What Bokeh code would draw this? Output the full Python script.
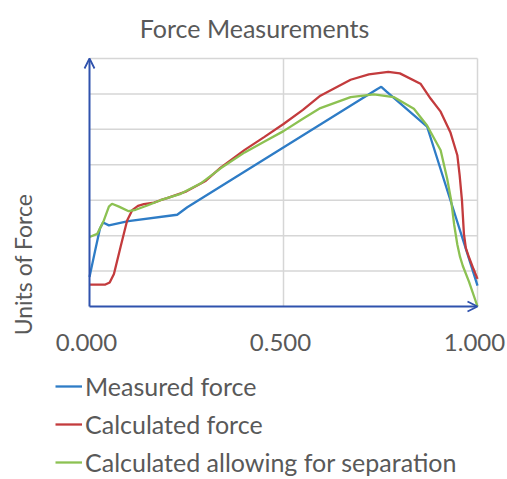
import math
from bokeh.plotting import figure
from bokeh.models import Range1d, Arrow, OpenHead, Legend, LegendItem
from bokeh.core.properties import value
from bokeh.embed import file_html
from bokeh.resources import INLINE

# ---------------- data ----------------
title_text = "Force Measurements"
y_label_text = "Units of Force"
x_ticks = [0.0, 0.5, 1.0]
x_tick_labels = ["0.000", "0.500", "1.000"]
x_grid_ticks = [0.5, 1.0]
y_grid_ticks = [1, 2, 3, 4, 5, 6, 7]
series_names = ["Measured force", "Calculated force", "Calculated allowing for separation"]

measured_x = [0.0, 0.015, 0.027, 0.035, 0.05, 0.10, 0.226, 0.252, 0.742, 0.752, 0.765, 0.870, 1.0]
measured_y = [0.83, 1.6, 2.2, 2.37, 2.29, 2.41, 2.59, 2.80, 6.14, 6.20, 6.07, 5.08, 0.59]

calc_x = [0.0, 0.041, 0.052, 0.063, 0.08, 0.097, 0.11, 0.125, 0.14, 0.166, 0.183, 0.20,
          0.25, 0.30, 0.338, 0.40, 0.45, 0.50, 0.55, 0.595, 0.673, 0.72, 0.77, 0.80,
          0.853, 0.879, 0.905, 0.930, 0.948, 0.954, 0.960, 0.965, 0.970, 0.978, 0.99, 1.0]
calc_y = [0.62, 0.62, 0.68, 0.92, 1.68, 2.43, 2.72, 2.84, 2.89, 2.93, 3.0, 3.06,
          3.25, 3.55, 3.92, 4.42, 4.78, 5.15, 5.55, 5.95, 6.40, 6.55, 6.62, 6.58,
          6.29, 5.87, 5.50, 4.92, 4.27, 3.70, 2.99, 2.05, 1.65, 1.39, 1.05, 0.78]

sep_x = [0.0, 0.02, 0.037, 0.05, 0.058, 0.076, 0.101, 0.119, 0.149, 0.183, 0.235,
         0.286, 0.338, 0.40, 0.45, 0.50, 0.55, 0.595, 0.673, 0.733, 0.784, 0.836,
         0.870, 0.905, 0.922, 0.932, 0.940, 0.948, 0.955, 0.962, 0.978, 1.0]
sep_y = [1.96, 2.05, 2.43, 2.82, 2.90, 2.82, 2.69, 2.73, 2.85, 3.0, 3.18,
         3.47, 3.9, 4.35, 4.65, 4.95, 5.3, 5.6, 5.91, 5.99, 5.91, 5.58,
         5.11, 4.41, 3.6, 3.0, 2.3, 1.75, 1.4, 1.15, 0.7, 0.0]

# ---------------- layout (pixels) ----------------
W, H = 506, 478
PLOT_L, PLOT_R, PLOT_T, PLOT_B = 89, 477, 58, 306
X_MIN, X_MAX, Y_MIN, Y_MAX = 0.0, 1.0, 0.0, 7.0
sx = (PLOT_R - PLOT_L) / (X_MAX - X_MIN)
sy = (PLOT_B - PLOT_T) / (Y_MAX - Y_MIN)
x_range = Range1d(X_MIN - PLOT_L / sx, X_MIN + (W - PLOT_L) / sx)
y_range = Range1d(Y_MIN - (H - PLOT_B) / sy, Y_MIN + PLOT_B / sy)


def px_to_x(px):
    return X_MIN + (px - PLOT_L) / sx


def py_to_y(py):
    return Y_MIN + (PLOT_B - py) / sy


# ---------------- style ----------------
FONT = "Lato"
TEXT_COL = "#595959"
AXIS_COL = "#2f52ad"
GRID_COL = "#d6d6d6"
colors = ["#2e7cc6", "#c33b3d", "#8cc152"]

p = figure(width=W, height=H, x_range=x_range, y_range=y_range,
           output_backend="svg", toolbar_location=None,
           x_axis_type=None, y_axis_type=None,
           min_border=0, min_border_left=0, min_border_right=0,
           min_border_top=0, min_border_bottom=0)
p.outline_line_color = None
p.grid.visible = False
p.background_fill_color = "white"
p.border_fill_color = "white"

# grid lines limited to the plot area
p.segment(x0=[X_MIN] * len(y_grid_ticks), y0=y_grid_ticks,
          x1=[X_MAX] * len(y_grid_ticks), y1=y_grid_ticks,
          line_color=GRID_COL, line_width=1.5)
p.segment(x0=x_grid_ticks, y0=[Y_MIN] * len(x_grid_ticks),
          x1=x_grid_ticks, y1=[Y_MAX] * len(x_grid_ticks),
          line_color=GRID_COL, line_width=1.5)

# series
r_meas = p.line(measured_x, measured_y, line_color=colors[0], line_width=2.3)
r_calc = p.line(calc_x, calc_y, line_color=colors[1], line_width=2.3)
r_sep = p.line(sep_x, sep_y, line_color=colors[2], line_width=2.3)

# axis arrows
p.add_layout(Arrow(end=OpenHead(size=10, line_color=AXIS_COL, line_width=1.8),
                   x_start=X_MIN, y_start=Y_MIN, x_end=X_MIN, y_end=Y_MAX,
                   line_color=AXIS_COL, line_width=2))
p.add_layout(Arrow(end=OpenHead(size=10, line_color=AXIS_COL, line_width=1.8),
                   x_start=X_MIN, y_start=Y_MIN, x_end=X_MAX, y_end=Y_MIN,
                   line_color=AXIS_COL, line_width=2))

# tick labels
p.text(x=x_ticks, y=[py_to_y(342)] * len(x_ticks), text=x_tick_labels,
       x_offset=-3, text_align="center", text_baseline="middle",
       text_font=value(FONT), text_font_size=value("24px"), text_color=TEXT_COL)

# title
p.text(x=[px_to_x(254)], y=[py_to_y(27)], text=[title_text],
       text_align="center", text_baseline="middle",
       text_font=value(FONT), text_font_size=value("25px"), text_color=TEXT_COL)

# y axis label
p.text(x=[px_to_x(22)], y=[py_to_y(264)], text=[y_label_text], angle=math.pi / 2,
       text_align="center", text_baseline="middle",
       text_font=value(FONT), text_font_size=value("23px"), text_color=TEXT_COL)

# legend (rows centred near y = 386, 424, 462 px)
legend = Legend(items=[LegendItem(label=series_names[0], renderers=[r_meas]),
                       LegendItem(label=series_names[1], renderers=[r_calc]),
                       LegendItem(label=series_names[2], renderers=[r_sep])],
                location=(55, H - 481), orientation="vertical",
                padding=0, margin=0, spacing=0,
                label_height=38, glyph_height=38, glyph_width=27,
                label_standoff=3, border_line_alpha=0, background_fill_alpha=0,
                label_text_font=FONT, label_text_font_size="25px",
                label_text_color=TEXT_COL)
p.add_layout(legend, "center")

open("out.html", "w").write(file_html(p, INLINE))
